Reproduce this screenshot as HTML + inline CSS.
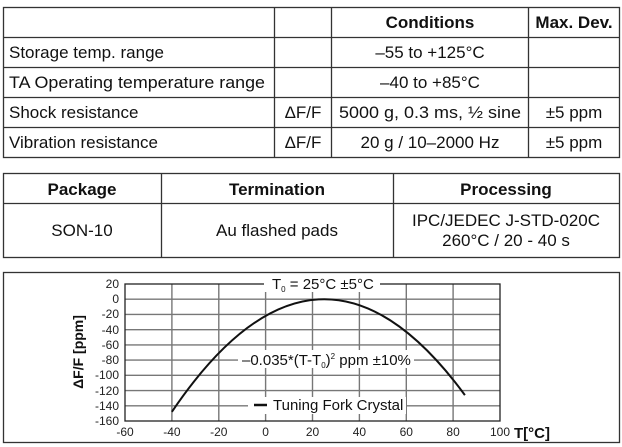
<!DOCTYPE html>
<html><head><meta charset="utf-8"><style>body{margin:0;background:#fff}svg{display:block}</style></head><body>
<svg width="622" height="447" viewBox="0 0 622 447" font-family="Liberation Sans, sans-serif">
<g stroke="#333" stroke-width="1.3" fill="none">
<rect x="3.5" y="7.5" width="616" height="150"/>
<line x1="3" y1="37.5" x2="620" y2="37.5"/><line x1="3" y1="67.5" x2="620" y2="67.5"/>
<line x1="3" y1="97.5" x2="620" y2="97.5"/><line x1="3" y1="127.5" x2="620" y2="127.5"/>
<line x1="274.5" y1="7" x2="274.5" y2="157"/><line x1="331.5" y1="7" x2="331.5" y2="157"/>
<line x1="528.5" y1="7" x2="528.5" y2="157"/>
<rect x="3.5" y="173.5" width="616" height="84"/>
<line x1="3" y1="203.5" x2="620" y2="203.5"/>
<line x1="161.5" y1="173" x2="161.5" y2="258"/><line x1="393.5" y1="173" x2="393.5" y2="258"/>
<rect x="3.5" y="272.5" width="616" height="170"/>
</g>
<g font-size="17" fill="#111">
<g font-weight="bold" text-anchor="middle"><text x="430" y="28">Conditions</text><text x="574" y="28">Max. Dev.</text>
<text x="82" y="195">Package</text><text x="277" y="195">Termination</text><text x="506" y="195">Processing</text></g>
<text x="9" y="58">Storage temp. range</text><text x="9" y="88" textLength="256" lengthAdjust="spacingAndGlyphs">TA Operating temperature range</text>
<text x="9" y="118">Shock resistance</text><text x="9" y="148">Vibration resistance</text>
<g text-anchor="middle">
<text x="430" y="58">–55 to +125°C</text><text x="430" y="88">–40 to +85°C</text>
<text x="303" y="118">ΔF/F</text><text x="303" y="148">ΔF/F</text>
<text x="430" y="118" textLength="182" lengthAdjust="spacingAndGlyphs">5000 g, 0.3 ms, ½ sine</text><text x="430" y="148">20 g / 10–2000 Hz</text>
<text x="574" y="118">±5 ppm</text><text x="574" y="148">±5 ppm</text>
<text x="82" y="236">SON-10</text><text x="277" y="236">Au flashed pads</text>
<text x="506" y="226">IPC/JEDEC J-STD-020C</text><text x="506" y="246">260°C / 20 - 40 s</text>
</g></g>
<g stroke="#777" stroke-width="1.4">
<line x1="171.9" y1="284" x2="171.9" y2="421"/><line x1="218.8" y1="284" x2="218.8" y2="421"/><line x1="265.6" y1="284" x2="265.6" y2="421"/><line x1="312.5" y1="284" x2="312.5" y2="421"/><line x1="359.4" y1="284" x2="359.4" y2="421"/><line x1="406.3" y1="284" x2="406.3" y2="421"/><line x1="453.1" y1="284" x2="453.1" y2="421"/>
<line x1="125" y1="299.2" x2="500" y2="299.2"/><line x1="125" y1="314.4" x2="500" y2="314.4"/><line x1="125" y1="329.7" x2="500" y2="329.7"/><line x1="125" y1="344.9" x2="500" y2="344.9"/><line x1="125" y1="360.1" x2="500" y2="360.1"/><line x1="125" y1="375.3" x2="500" y2="375.3"/><line x1="125" y1="390.6" x2="500" y2="390.6"/><line x1="125" y1="405.8" x2="500" y2="405.8"/>
</g>
<rect x="125" y="284" width="375" height="137" fill="none" stroke="#222" stroke-width="1.3"/>
<path d="M171.9 411.8 Q318.4 195.3 464.9 395.1" fill="none" stroke="#111" stroke-width="2"/>
<g font-size="15" fill="#111">
<rect x="264" y="276" width="116" height="16" fill="#fff"/>
<text x="272" y="289">T<tspan font-size="8" dy="3">0</tspan><tspan dy="-3"> = 25°C ±5°C</tspan></text>
<rect x="238" y="350" width="176" height="18" fill="#fff"/>
<text x="242" y="365">–0.035*(T-T<tspan font-size="8" dy="3">0</tspan><tspan dy="-3">)</tspan><tspan font-size="8" dy="-6">2</tspan><tspan dy="6"> ppm ±10%</tspan></text>
<rect x="248" y="397" width="158" height="17" fill="#fff"/>
<line x1="254" y1="405" x2="267" y2="405" stroke="#111" stroke-width="2.5"/>
<text x="273" y="410">Tuning Fork Crystal</text>
</g>
<g font-size="12" fill="#222" text-anchor="end">
<text x="119" y="288">20</text><text x="119" y="303">0</text><text x="119" y="318">-20</text><text x="119" y="334">-40</text><text x="119" y="349">-60</text><text x="119" y="364">-80</text><text x="119" y="379">-100</text><text x="119" y="395">-120</text><text x="119" y="410">-140</text><text x="119" y="425">-160</text>
</g>
<g font-size="12" fill="#222" text-anchor="middle">
<text x="125" y="436">-60</text><text x="171.9" y="436">-40</text><text x="218.8" y="436">-20</text><text x="265.6" y="436">0</text><text x="312.5" y="436">20</text><text x="359.4" y="436">40</text><text x="406.3" y="436">60</text><text x="453.1" y="436">80</text><text x="500" y="436">100</text>
</g>
<text x="514" y="438" font-size="15" font-weight="bold" fill="#111">T[°C]</text>
<text transform="translate(83 352) rotate(-90)" font-size="14" font-weight="bold" fill="#111" text-anchor="middle">ΔF/F [ppm]</text>
</svg>
</body></html>
